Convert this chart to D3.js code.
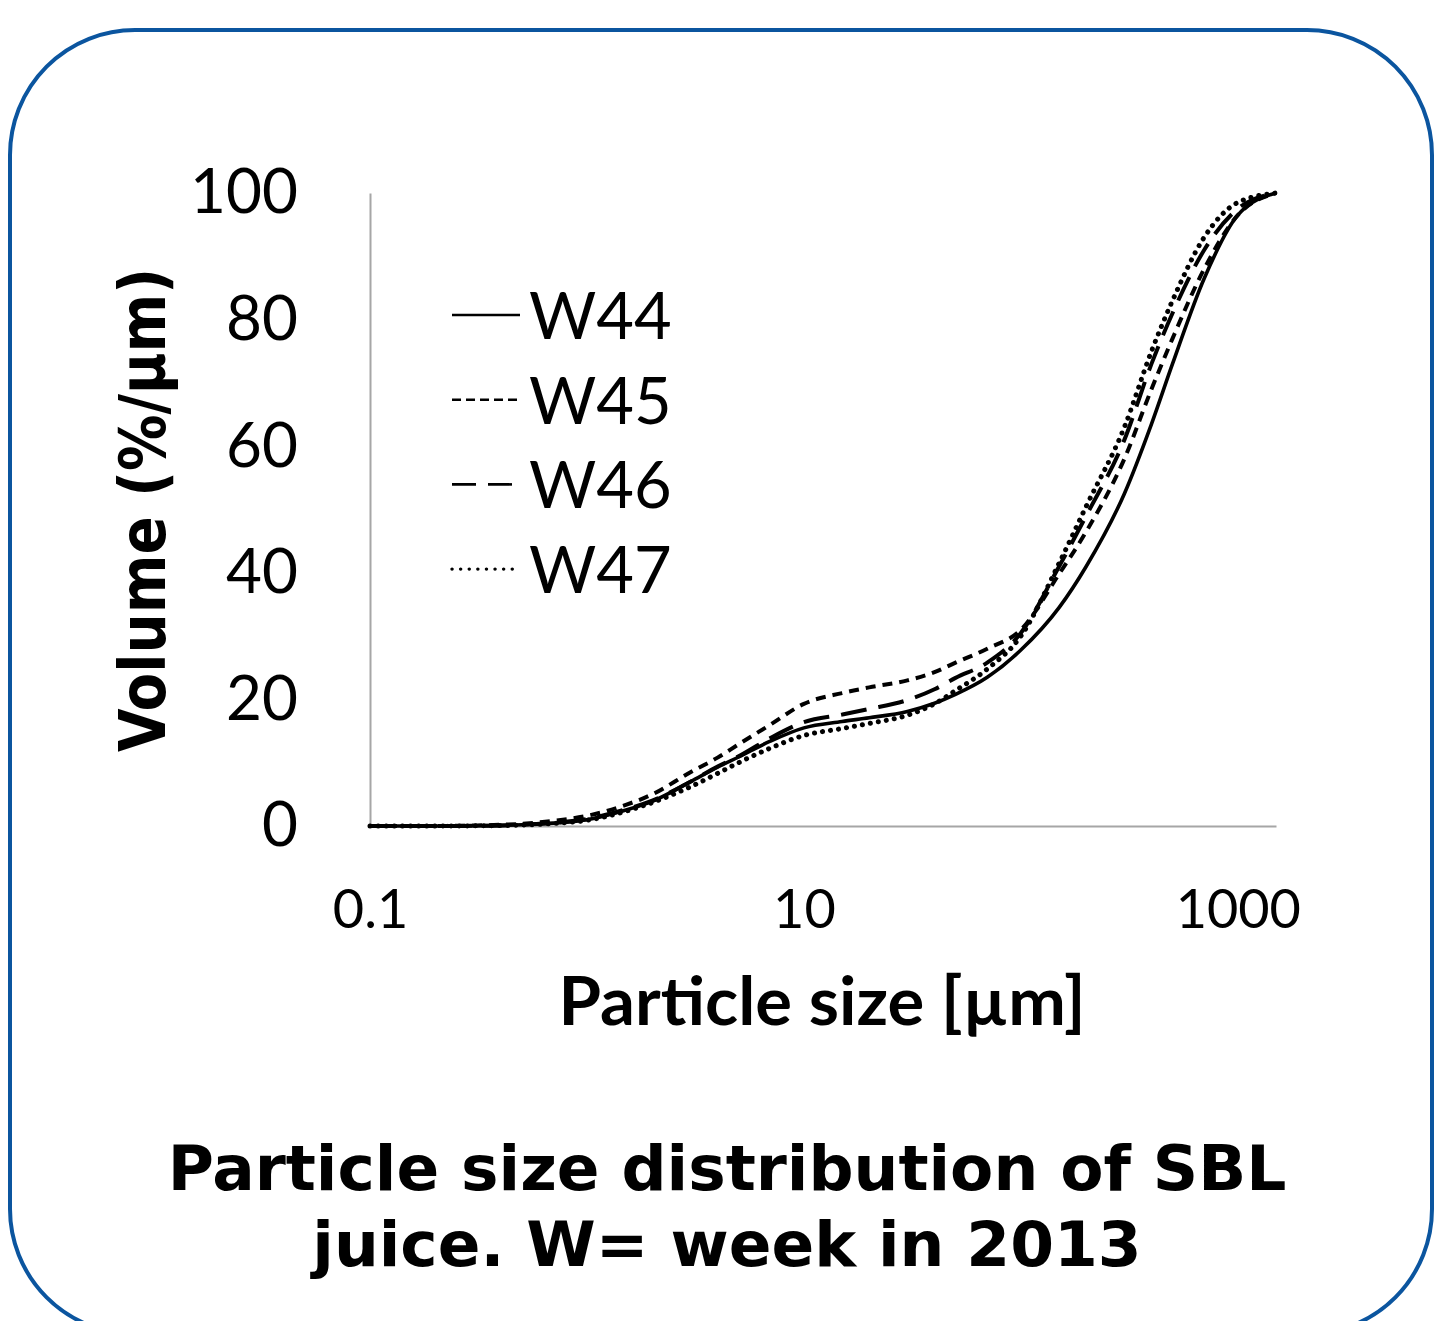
<!DOCTYPE html>
<html>
<head>
<meta charset="utf-8">
<title>Particle size distribution</title>
<script src="https://d3js.org/d3.v7.min.js"></script>
<style>
  body { margin: 0; background: #fff; }
</style>
</head>
<body>
<svg id="mainsvg" width="1438" height="1321"></svg>
<script>
// ---------- data ----------
const sizes = [0.1, 0.2, 0.3, 0.5, 0.7, 1, 1.5, 2, 3, 4, 5, 7, 10, 15, 20, 30, 40, 50, 70, 100, 150, 200, 300, 400, 500, 700, 1000, 1500];
const w44 = [0, 0, 0.03, 0.2, 0.45, 1.0, 2.5, 3.9, 7.0, 9.3, 10.9, 13.4, 15.5, 16.5, 17.1, 18.1, 19.4, 20.8, 23.5, 27.8, 34.5, 41.0, 52.5, 63.5, 73.0, 86.5, 96.5, 100];
const w45 = [0, 0.01, 0.08, 0.35, 0.8, 1.6, 3.3, 5.0, 8.5, 10.8, 12.9, 16.0, 19.3, 21.0, 21.9, 23.0, 24.3, 25.8, 28.0, 31.0, 39.8, 46.5, 58.0, 69.0, 77.0, 88.0, 96.5, 100];
const w46 = [0, 0, 0.03, 0.2, 0.5, 1.1, 2.6, 4.0, 7.0, 9.4, 11.0, 13.9, 16.4, 17.6, 18.5, 19.9, 21.6, 23.4, 25.8, 30.5, 41.0, 49.0, 61.0, 73.0, 81.0, 91.0, 97.5, 100];
const w47 = [0, 0, 0.02, 0.15, 0.4, 0.9, 2.3, 3.7, 6.2, 8.3, 10.0, 12.3, 14.3, 15.4, 16.2, 17.5, 19.3, 21.4, 24.8, 30.0, 41.5, 50.5, 63.0, 75.0, 83.0, 93.0, 98.5, 100];
const seriesNames = ["W44", "W45", "W46", "W47"];
const yTicks = [0, 20, 40, 60, 80, 100];
const xTicks = [0.1, 10, 1000];

// line look for each series
const styles = {
  W44: { dash: null, width: 3.6, cap: "butt", legDash: null, legWidth: 2.6 },
  W45: { dash: "10,7", width: 4, cap: "butt", legDash: "9,5", legWidth: 2.6 },
  W46: { dash: "26,12", width: 4, cap: "butt", legDash: "24,12", legWidth: 2.6 },
  W47: { dash: "0.1,8", width: 5, cap: "round", legDash: "0.1,8.5", legWidth: 3.4 }
};

const svg = d3.select("#mainsvg");

// blue rounded frame
svg.append("rect")
  .attr("x", 10).attr("y", 30)
  .attr("width", 1422).attr("height", 1304)
  .attr("rx", 125).attr("ry", 125)
  .attr("fill", "none")
  .attr("stroke", "#0b559f")
  .attr("stroke-width", 4);

// scales
const x = d3.scaleLog().domain([0.1, 1500]).range([370, 1276]);
const y = d3.scaleLinear().domain([0, 100]).range([826, 193]);

// axes
const yAxis = d3.axisLeft(y).tickValues(yTicks).tickSize(0).tickPadding(72);
const gy = svg.append("g").attr("transform", "translate(370,0)").call(yAxis);
gy.select(".domain").attr("stroke", "#a6a6a6").attr("stroke-width", 2);
gy.selectAll("text")
  .attr("font-family", "Lato, 'Open Sans', sans-serif")
  .attr("font-size", 62)
  .attr("fill", "#000");

const xAxis = d3.axisBottom(x).tickValues(xTicks).tickFormat(d3.format("~g")).tickSize(0).tickPadding(64);
const gx = svg.append("g").attr("transform", "translate(0,826)").call(xAxis);
gx.select(".domain").attr("stroke", "#a6a6a6").attr("stroke-width", 2);
gx.selectAll("text")
  .attr("font-family", "Lato, 'Open Sans', sans-serif")
  .attr("font-size", 54)
  .attr("fill", "#000");

// lines
const allSeries = [w44, w45, w46, w47].map((vals, i) => ({
  name: seriesNames[i],
  points: sizes.map((s, j) => [s, vals[j]])
}));

const line = d3.line()
  .x(d => x(d[0]))
  .y(d => y(d[1]))
  .curve(d3.curveMonotoneX);

svg.append("g").selectAll("path").data(allSeries).join("path")
  .attr("d", d => line(d.points))
  .attr("fill", "none")
  .attr("stroke", "#000")
  .attr("stroke-width", d => styles[d.name].width)
  .attr("stroke-dasharray", d => styles[d.name].dash)
  .attr("stroke-linecap", d => styles[d.name].cap);

// legend
const legend = svg.append("g").attr("transform", "translate(452,315)");
const rows = legend.selectAll("g").data(seriesNames).join("g")
  .attr("transform", (d, i) => `translate(0, ${i * 84.7})`);
rows.append("line")
  .attr("x1", 0).attr("x2", 68).attr("y1", 0).attr("y2", 0)
  .attr("stroke", "#000")
  .attr("stroke-width", d => styles[d].legWidth)
  .attr("stroke-dasharray", d => styles[d].legDash)
  .attr("stroke-linecap", d => styles[d].cap);
rows.append("text")
  .attr("x", 77).attr("y", 24)
  .attr("font-family", "Lato, 'Open Sans', sans-serif")
  .attr("font-size", 65)
  .text(d => d);

// axis titles
svg.append("text")
  .attr("transform", "translate(165,510) rotate(-90)")
  .attr("text-anchor", "middle")
  .attr("font-family", "'DejaVu Sans', Verdana, sans-serif")
  .attr("font-weight", "bold")
  .attr("font-size", 64)
  .attr("textLength", 484)
  .attr("lengthAdjust", "spacingAndGlyphs")
  .text("Volume (%/µm)");

svg.append("text")
  .attr("x", 822).attr("y", 1025)
  .attr("text-anchor", "middle")
  .attr("font-family", "Lato, 'Open Sans', sans-serif")
  .attr("font-weight", "bold")
  .attr("font-size", 66)
  .attr("textLength", 527)
  .attr("lengthAdjust", "spacingAndGlyphs")
  .text("Particle size [µm]");

// caption
const caption = ["Particle size distribution of SBL", "juice. W= week in 2013"];
svg.append("g").selectAll("text").data(caption).join("text")
  .attr("x", 727)
  .attr("y", (d, i) => 1190 + i * 76)
  .attr("text-anchor", "middle")
  .attr("font-family", "'DejaVu Sans', Verdana, sans-serif")
  .attr("font-weight", "bold")
  .attr("font-size", 63)
  .text(d => d);
</script>
</body>
</html>
